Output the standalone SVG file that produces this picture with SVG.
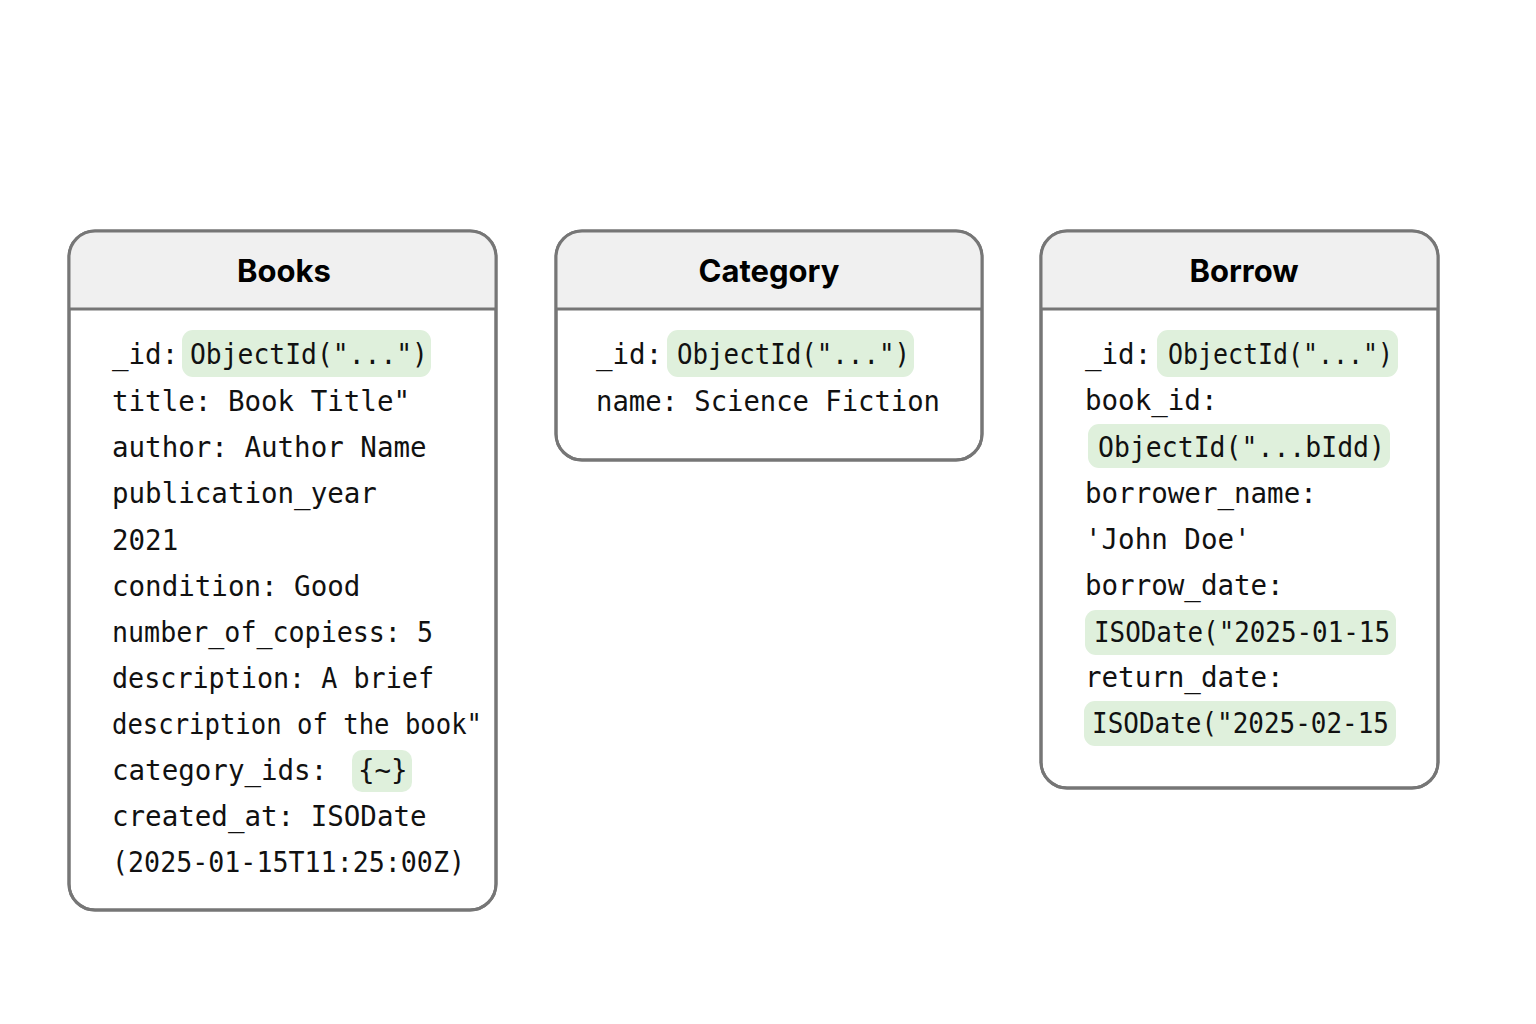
<svg xmlns="http://www.w3.org/2000/svg" width="1536" height="1024" viewBox="0 0 1536 1024">
<style>
.box{fill:#ffffff;stroke:#767676;stroke-width:3}
.hdr{fill:#f0f0f0}
.div{stroke:#767676;stroke-width:3}
.title{font-family:Inter,"Liberation Sans",sans-serif;font-weight:bold;font-size:31px;fill:#000;text-anchor:middle}
.f{font-family:"DejaVu Sans Mono","Liberation Mono",monospace;font-size:27.5px;fill:#111}
.hl{fill:#dff0dc}
</style>
<rect width="1536" height="1024" fill="#ffffff"/>
<defs>
<clipPath id="cb"><rect x="69" y="231" width="427" height="679" rx="26"/></clipPath>
<clipPath id="cc"><rect x="556" y="231" width="426" height="229" rx="26"/></clipPath>
<clipPath id="cr"><rect x="1041" y="231" width="397" height="557" rx="26"/></clipPath>
</defs>
<g id="connectors"></g>
<g id="books">
<rect class="box" x="69" y="231" width="427" height="679" rx="26"/>
<rect class="hdr" x="69" y="231" width="427" height="78" clip-path="url(#cb)"/>
<rect x="69" y="231" width="427" height="679" rx="26" fill="none" stroke="#767676" stroke-width="3"/>
<line class="div" x1="69" y1="309" x2="496" y2="309"/>
<text class="title" x="284" y="282">Books</text>
<rect class="hl" x="182" y="330" width="249" height="47" rx="11"/>
<rect class="hl" x="352" y="750" width="60" height="42" rx="10"/>
<text class="f" x="112" y="364">_id:</text>
<text class="f" x="190" y="364" textLength="238" lengthAdjust="spacingAndGlyphs">ObjectId("...")</text>
<text class="f" x="112" y="411">title: Book Title"</text>
<text class="f" x="112" y="457">author: Author Name</text>
<text class="f" x="112" y="503">publication_year</text>
<text class="f" x="112" y="550">2021</text>
<text class="f" x="112" y="596">condition: Good</text>
<text class="f" x="112" y="642" textLength="321" lengthAdjust="spacingAndGlyphs">number_of_copiess: 5</text>
<text class="f" x="112" y="688" textLength="322" lengthAdjust="spacingAndGlyphs">description: A brief</text>
<text class="f" x="112" y="734" textLength="370" lengthAdjust="spacingAndGlyphs">description of the book"</text>
<text class="f" x="112" y="780">category_ids:</text>
<text class="f" x="358" y="780">{~}</text>
<text class="f" x="112" y="826">created_at: ISODate</text>
<text class="f" x="112" y="872" textLength="353" lengthAdjust="spacingAndGlyphs">(2025-01-15T11:25:00Z)</text>
</g>
<g id="category">
<rect class="box" x="556" y="231" width="426" height="229" rx="26"/>
<rect class="hdr" x="556" y="231" width="426" height="78" clip-path="url(#cc)"/>
<rect x="556" y="231" width="426" height="229" rx="26" fill="none" stroke="#767676" stroke-width="3"/>
<line class="div" x1="556" y1="309" x2="982" y2="309"/>
<text class="title" x="769" y="282">Category</text>
<rect class="hl" x="667" y="330" width="247" height="47" rx="11"/>
<text class="f" x="596" y="364">_id:</text>
<text class="f" x="677" y="364" textLength="233" lengthAdjust="spacingAndGlyphs">ObjectId("...")</text>
<text class="f" x="596" y="411" textLength="344" lengthAdjust="spacingAndGlyphs">name: Science Fiction</text>
</g>
<g id="borrow">
<rect class="box" x="1041" y="231" width="397" height="557" rx="26"/>
<rect class="hdr" x="1041" y="231" width="397" height="78" clip-path="url(#cr)"/>
<rect x="1041" y="231" width="397" height="557" rx="26" fill="none" stroke="#767676" stroke-width="3"/>
<line class="div" x1="1041" y1="309" x2="1438" y2="309"/>
<text class="title" x="1244" y="282">Borrow</text>
<rect class="hl" x="1157" y="330" width="241" height="47" rx="11"/>
<rect class="hl" x="1088" y="424" width="302" height="44" rx="11"/>
<rect class="hl" x="1085" y="610" width="311" height="45" rx="11"/>
<rect class="hl" x="1084" y="701" width="312" height="45" rx="11"/>
<text class="f" x="1085" y="364">_id:</text>
<text class="f" x="1168" y="364" textLength="225" lengthAdjust="spacingAndGlyphs">ObjectId("...")</text>
<text class="f" x="1085" y="410">book_id:</text>
<text class="f" x="1098" y="457" textLength="287" lengthAdjust="spacingAndGlyphs">ObjectId("...bIdd)</text>
<text class="f" x="1085" y="503">borrower_name:</text>
<text class="f" x="1085" y="549">'John Doe'</text>
<text class="f" x="1085" y="595">borrow_date:</text>
<text class="f" x="1094" y="642" textLength="296" lengthAdjust="spacingAndGlyphs">ISODate("2025-01-15</text>
<text class="f" x="1085" y="687">return_date:</text>
<text class="f" x="1092" y="733" textLength="297" lengthAdjust="spacingAndGlyphs">ISODate("2025-02-15</text>
</g>
</svg>
